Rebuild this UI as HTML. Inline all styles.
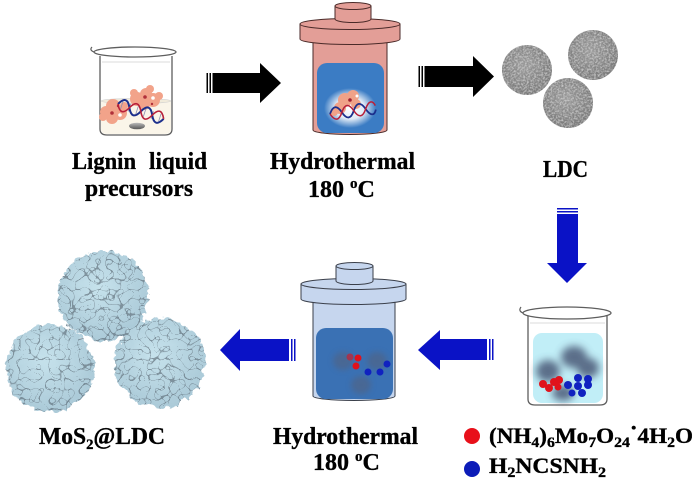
<!DOCTYPE html>
<html><head><meta charset="utf-8"><style>
html,body{margin:0;padding:0;background:#fff;}
svg{display:block;}
text{font-family:"Liberation Serif",serif;font-weight:bold;fill:#000;stroke:#000;stroke-width:0.35;}
</style></head><body>
<svg width="698" height="483" viewBox="0 0 698 483" xmlns="http://www.w3.org/2000/svg">
<defs>
  <filter id="grain" x="0" y="0" width="100%" height="100%">
    <feTurbulence type="fractalNoise" baseFrequency="0.55" numOctaves="2" seed="2" result="n"/>
    <feColorMatrix in="n" type="matrix" values="0 0 0 0 0.78  0 0 0 0 0.78  0 0 0 0 0.78  1.4 0 0 0 -0.55" result="light"/>
    <feComposite in="light" in2="SourceGraphic" operator="atop"/>
  </filter>
  <filter id="mos" x="-15%" y="-15%" width="130%" height="130%">
    <feTurbulence type="turbulence" baseFrequency="0.09" numOctaves="2" seed="7" result="t"/>
    <feDisplacementMap in="SourceGraphic" in2="t" scale="8" xChannelSelector="R" yChannelSelector="G" result="shape"/>
    <feTurbulence type="turbulence" baseFrequency="0.1" numOctaves="1" seed="11" result="t2"/>
    <feColorMatrix in="t2" type="matrix" values="0 0 0 0 0.12  0 0 0 0 0.16  0 0 0 0 0.2  -18 0 0 0 0.75" result="dark"/>
    <feComposite in="dark" in2="shape" operator="atop"/>
  </filter>
  <filter id="blur4" x="-50%" y="-50%" width="200%" height="200%"><feGaussianBlur stdDeviation="4"/></filter>
  <filter id="blur3" x="-50%" y="-50%" width="200%" height="200%"><feGaussianBlur stdDeviation="3"/></filter>
  <radialGradient id="ldc" cx="45%" cy="40%" r="60%">
    <stop offset="0" stop-color="#9a9a9a"/><stop offset="1" stop-color="#787878"/>
  </radialGradient>
  <radialGradient id="mosg" cx="45%" cy="40%" r="60%">
    <stop offset="0" stop-color="#c6e2ec"/><stop offset="1" stop-color="#abcad8"/>
  </radialGradient>
  <radialGradient id="glow" cx="50%" cy="50%" r="50%">
    <stop offset="0" stop-color="#ffffff"/><stop offset="0.55" stop-color="#ffffff" stop-opacity="0.85"/><stop offset="1" stop-color="#ffffff" stop-opacity="0"/>
  </radialGradient>
  <linearGradient id="stir" x1="0" y1="0" x2="0" y2="1">
    <stop offset="0" stop-color="#bbb"/><stop offset="1" stop-color="#555"/>
  </linearGradient>
</defs>

<!-- ===== Left beaker (lignin) ===== -->
<g>
  <path d="M100,56 L100,129 Q100,135 107,135 L165,135 Q172,135 172,129 L172,56" fill="#fff" stroke="#5e5e5e" stroke-width="1.3"/>
  <path d="M101,101 L101,129 Q101,134 107,134 L165,134 Q171,134 171,129 L171,101 Z" fill="#faf5e9"/>
  <ellipse cx="136" cy="101" rx="35" ry="2.5" fill="#f1ebdb" stroke="#cfcfcf" stroke-width="0.6"/>
  <g fill="#f2a38a">
    <circle cx="106" cy="112" r="6"/><circle cx="113" cy="106" r="7"/><circle cx="120" cy="113" r="7"/>
    <circle cx="112" cy="118" r="6"/><circle cx="103" cy="117" r="4"/><circle cx="124" cy="106" r="4"/>
    <circle cx="137" cy="99" r="7"/><circle cx="146" cy="94" r="6"/><circle cx="153" cy="100" r="7"/>
    <circle cx="144" cy="104" r="6"/><circle cx="159" cy="96" r="4"/><circle cx="134" cy="93" r="4"/><circle cx="150" cy="89" r="4"/>
  </g>
  <g fill="#b0303a"><circle cx="112" cy="113" r="1.8"/><circle cx="145" cy="97" r="1.8"/><circle cx="118" cy="106" r="1.2"/><circle cx="152" cy="104" r="1.2"/></g>
  <g fill="#fff"><circle cx="120" cy="115" r="1.8"/><circle cx="153" cy="98" r="1.8"/></g>
  <g transform="translate(118,104) rotate(18)">
    <g stroke="#8a8fb0" stroke-width="0.8"><line x1="4" y1="-4" x2="4" y2="4"/><line x1="12" y1="-4" x2="12" y2="4"/><line x1="20" y1="-4" x2="20" y2="4"/><line x1="28" y1="-4" x2="28" y2="4"/><line x1="36" y1="-4" x2="36" y2="4"/><line x1="44" y1="-4" x2="44" y2="4"/></g>
    <path d="M0,0 C4,-8 8,-8 12,0 S20,8 24,0 S32,-8 36,0 S44,8 48,0" fill="none" stroke="#1c2f8c" stroke-width="2"/>
    <path d="M0,0 C4,8 8,8 12,0 S20,-8 24,0 S32,8 36,0 S44,-8 48,0" fill="none" stroke="#b8203a" stroke-width="1.6"/>
  </g>
  <ellipse cx="137" cy="126" rx="8" ry="3.3" fill="url(#stir)"/>
  <path d="M94,52 Q89,50 92,47" fill="none" stroke="#5e5e5e" stroke-width="1.2"/>
  <ellipse cx="135" cy="52" rx="41" ry="5" fill="none" stroke="#5e5e5e" stroke-width="1.3"/>
  <line x1="102" y1="62" x2="170" y2="62" stroke="#cfcfcf" stroke-width="0.8"/>
</g>

<!-- ===== Black arrow 1 ===== -->
<g fill="#000">
  <rect x="206.5" y="73" width="1.5" height="20"/>
  <rect x="209.5" y="73" width="1.5" height="20"/>
  <polygon points="212.5,73 260,73 260,63 281,83 260,103 260,93 212.5,93"/>
</g>
<!-- ===== Black arrow 2 ===== -->
<g fill="#000">
  <rect x="418.5" y="66" width="1.5" height="21"/>
  <rect x="421.5" y="66" width="1.5" height="21"/>
  <polygon points="424.5,66 473,66 473,56 494,76.5 473,97 473,87 424.5,87"/>
</g>

<!-- ===== Pink hydrothermal vessel ===== -->
<g stroke="#4a2a28" stroke-width="1" fill="#e39e97">
  <path d="M313,42 L313,130 A37,4.5 0 0,0 387,130 L387,42 Z"/>
  <path d="M300,24 L300,39 A50,5.5 0 0,0 400,39 L400,24 Z"/>
  <ellipse cx="350" cy="24" rx="50" ry="5.5"/>
  <path d="M335,6 L335,19 A18,3.5 0 0,0 371,19 L371,6 Z"/>
  <ellipse cx="353" cy="6" rx="18" ry="3.5"/>
</g>
<rect x="317" y="63" width="67" height="70" rx="10" fill="#3b7cc4"/>
<ellipse cx="350" cy="108" rx="26" ry="20" fill="url(#glow)"/>
<g fill="#f0a288">
  <circle cx="345" cy="100" r="7"/><circle cx="353" cy="96" r="6"/><circle cx="340" cy="108" r="6"/><circle cx="356" cy="104" r="5"/><circle cx="334" cy="112" r="4"/>
</g>
<circle cx="350" cy="100" r="1.8" fill="#a02030"/><circle cx="357" cy="96" r="1.5" fill="#fff"/>
<g transform="translate(330,114) rotate(-8)">
  <path d="M0,0 C4,-8 8,-8 12,0 S20,8 24,0 S32,-8 36,0 S44,8 46,2" fill="none" stroke="#1c2f8c" stroke-width="1.8"/>
  <path d="M0,0 C4,8 8,8 12,0 S20,-8 24,0 S32,8 36,0 S44,-8 46,-2" fill="none" stroke="#b8203a" stroke-width="1.5"/>
</g>

<!-- ===== LDC spheres ===== -->
<g filter="url(#grain)">
  <circle cx="527" cy="70" r="25" fill="url(#ldc)"/>
  <circle cx="593" cy="55" r="25" fill="url(#ldc)"/>
  <circle cx="568" cy="103" r="25" fill="url(#ldc)"/>
</g>

<!-- ===== Blue down arrow ===== -->
<g fill="#0a12c6">
  <rect x="557" y="208" width="21" height="1.5"/>
  <rect x="557" y="211" width="21" height="1.5"/>
  <polygon points="557,214 578,214 578,263 587,263 567,283 547,263 557,263"/>
</g>

<!-- ===== Right beaker ===== -->
<g>
  <path d="M528,316 L528,399 Q528,405 535,405 L600,405 Q607,405 607,399 L607,316" fill="#fff" stroke="#5e5e5e" stroke-width="1.3"/>
  <rect x="533" y="333" width="70" height="70" rx="9" fill="#c1eef7"/>
  <g fill="#42506e" opacity="0.8" filter="url(#blur4)">
    <ellipse cx="548" cy="371" rx="12" ry="11"/>
    <ellipse cx="574" cy="357" rx="13" ry="11"/>
    <ellipse cx="588" cy="368" rx="11" ry="10"/>
    <ellipse cx="563" cy="393" rx="11" ry="8"/>
  </g>
  <g fill="#e0121c">
    <circle cx="543" cy="384" r="4"/><circle cx="549" cy="388" r="4"/><circle cx="554" cy="382" r="4"/><circle cx="559" cy="380" r="4"/><circle cx="558" cy="387" r="3.5"/>
  </g>
  <g fill="#1022c0">
    <circle cx="568" cy="385" r="4"/><circle cx="578" cy="378" r="4"/><circle cx="578" cy="386" r="4"/><circle cx="588" cy="379" r="4"/><circle cx="588" cy="385" r="4"/><circle cx="582" cy="393" r="4"/><circle cx="572" cy="393" r="3.5"/>
  </g>
  <path d="M523,313 Q518,311 521,307" fill="none" stroke="#5e5e5e" stroke-width="1.2"/>
  <ellipse cx="567" cy="313" rx="44" ry="6" fill="none" stroke="#5e5e5e" stroke-width="1.3"/>
  <line x1="530" y1="323" x2="605" y2="323" stroke="#cfcfcf" stroke-width="0.8"/>
</g>

<!-- ===== Blue left arrow 1 ===== -->
<g fill="#0a12c6">
  <rect x="492" y="339" width="1.5" height="21"/>
  <rect x="489" y="339" width="1.5" height="21"/>
  <polygon points="487,339 440,339 440,330 418,350 440,370 440,360 487,360"/>
</g>
<!-- ===== Blue left arrow 2 ===== -->
<g fill="#0a12c6">
  <rect x="294" y="339" width="1.5" height="22"/>
  <rect x="291" y="339" width="1.5" height="22"/>
  <polygon points="289,339 240,339 240,329 220,350 240,371 240,361 289,361"/>
</g>

<!-- ===== Blue hydrothermal vessel ===== -->
<g stroke="#3a3f4a" stroke-width="1" fill="#c6d6ee">
  <path d="M313,300 L313,396 A41,4.5 0 0,0 395,396 L395,300 Z"/>
  <path d="M301,284 L301,299 A52.5,5.5 0 0,0 406,299 L406,284 Z"/>
  <ellipse cx="353.5" cy="284" rx="52.5" ry="5.5"/>
  <path d="M336,266 L336,281 A18.5,3.5 0 0,0 373,281 L373,266 Z"/>
  <ellipse cx="354.5" cy="266" rx="18.5" ry="3.5"/>
</g>
<rect x="316" y="328" width="77" height="71" rx="10" fill="#3a71b4"/>
<g fill="#55607a" opacity="0.55" filter="url(#blur3)">
  <ellipse cx="343" cy="361" rx="10" ry="9"/>
  <ellipse cx="377" cy="361" rx="10" ry="9"/>
  <ellipse cx="361" cy="385" rx="10" ry="9"/>
</g>
<g fill="#e0121c"><circle cx="350" cy="357" r="3.5" opacity="0.6"/><circle cx="358" cy="358" r="3.5"/><circle cx="356" cy="366" r="3.5"/></g>
<g fill="#1022c0"><circle cx="368" cy="372" r="3.5"/><circle cx="380" cy="372" r="3.5"/><circle cx="387" cy="364" r="3.5"/></g>

<!-- ===== MoS2@LDC spheres ===== -->
<g filter="url(#mos)">
  <circle cx="101" cy="294" r="45" fill="url(#mosg)"/>
</g>
<g filter="url(#mos)">
  <circle cx="48" cy="366" r="44" fill="url(#mosg)"/>
</g>
<g filter="url(#mos)">
  <circle cx="158" cy="361" r="45" fill="url(#mosg)"/>
</g>

<!-- ===== Text ===== -->
<text x="72" y="169" font-size="24" textLength="64" lengthAdjust="spacingAndGlyphs">Lignin</text>
<text x="149" y="169" font-size="24" textLength="58" lengthAdjust="spacingAndGlyphs">liquid</text>
<text x="85" y="196" font-size="24" textLength="108" lengthAdjust="spacingAndGlyphs">precursors</text>
<text x="270" y="169" font-size="24" textLength="145" lengthAdjust="spacingAndGlyphs">Hydrothermal</text>
<text x="308" y="197" font-size="24">180 <tspan font-size="15" dy="-9">o</tspan><tspan dy="9">C</tspan></text>
<text x="543" y="177" font-size="24" textLength="45" lengthAdjust="spacingAndGlyphs">LDC</text>

<text x="39" y="444" font-size="24" textLength="126" lengthAdjust="spacingAndGlyphs">MoS<tspan font-size="15" dy="5">2</tspan><tspan dy="-5">@LDC</tspan></text>
<text x="273" y="444" font-size="24" textLength="145" lengthAdjust="spacingAndGlyphs">Hydrothermal</text>
<text x="313" y="470" font-size="24">180 <tspan font-size="15" dy="-9">o</tspan><tspan dy="9">C</tspan></text>

<circle cx="472" cy="436" r="8" fill="#e8101a"/>
<circle cx="472" cy="469" r="8" fill="#0c1cb8"/>
<text x="489" y="443" font-size="22" textLength="204" lengthAdjust="spacingAndGlyphs">(NH<tspan font-size="15" dy="4">4</tspan><tspan dy="-4">)</tspan><tspan font-size="15" dy="4">6</tspan><tspan dy="-4">Mo</tspan><tspan font-size="15" dy="4">7</tspan><tspan dy="-4">O</tspan><tspan font-size="15" dy="4">24</tspan><tspan dy="-12">·</tspan><tspan dy="8">4H</tspan><tspan font-size="15" dy="4">2</tspan><tspan dy="-4">O</tspan></text>
<text x="489" y="473" font-size="22" textLength="117" lengthAdjust="spacingAndGlyphs">H<tspan font-size="15" dy="4">2</tspan><tspan dy="-4">NCSNH</tspan><tspan font-size="15" dy="4">2</tspan></text>
</svg>
</body></html>
